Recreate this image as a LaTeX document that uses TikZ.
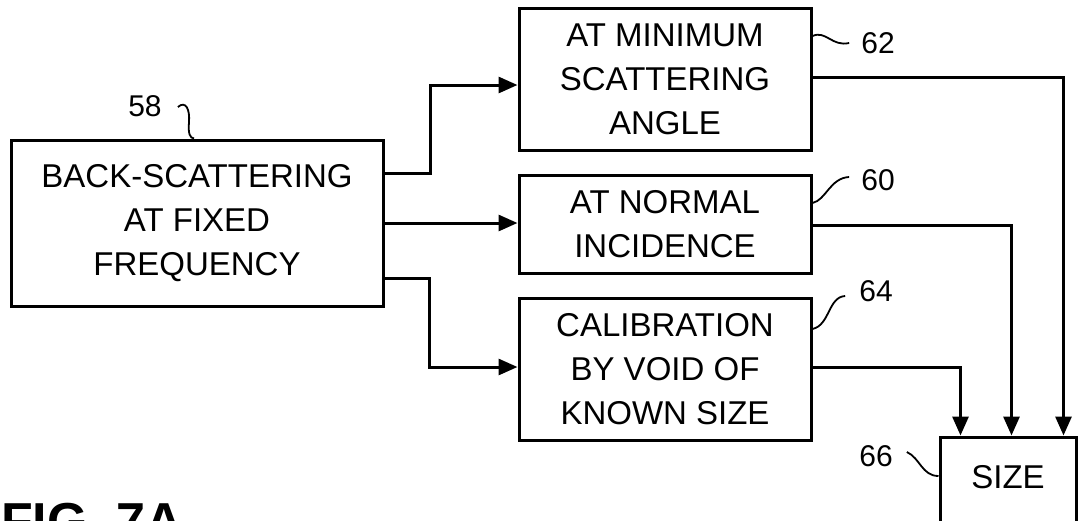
\documentclass[tikz,border=0pt]{standalone}
\usepackage{fontspec}
\setmainfont{Liberation Sans}
\usetikzlibrary{arrows.meta,calc}
\begin{document}
\begin{tikzpicture}[x=1pt,y=-1pt,
  box/.style={draw,line width=3pt,align=center,inner sep=0pt,font=\fontsize{33}{44}\selectfont},
  arr/.style={line width=3pt,-{Triangle[length=19pt,width=16pt]}},
  refnum/.style={font=\fontsize{30}{36}\selectfont,inner sep=0pt},
  lead/.style={line width=1.8pt}]
\useasboundingbox (0,0) rectangle (1078,520);
\fill[white] (0,0) rectangle (1078,520);
\clip (0,0) rectangle (1078,520);
% boxes
\node[box,minimum width=372pt,minimum height=166pt] (b58) at (197,223) {BACK-SCATTERING\\AT FIXED\\FREQUENCY};
\node[box,minimum width=292pt,minimum height=142pt] (b62) at (665,79) {AT MINIMUM\\SCATTERING\\ANGLE};
\node[box,minimum width=292pt,minimum height=98pt] (b60) at (665,224) {AT NORMAL\\INCIDENCE};
\node[box,minimum width=292pt,minimum height=142pt] (b64) at (665,369) {CALIBRATION\\BY VOID OF\\KNOWN SIZE};
\node[box,minimum width=136pt,minimum height=98pt,text height=24pt,text depth=20pt] (size) at (1008,486) {SIZE};
% connectors from 58
\draw[arr] ($(b58.east)+(0,-50)$) -- ++(46,0) |- ($(b62.west)+(0,6)$);
\draw[arr] (b58.east) -- (b58.east -| b60.west);
\draw[arr] ($(b58.east)+(0,55)$) -- ++(45,0) |- ($(b64.west)+(0,-2)$);
% connectors to size
\draw[arr] ($(b62.east)+(0,-2)$) -| ($(size.north west)+(125,0)$);
\draw[arr] ($(b60.east)+(0,1)$) -| ($(size.north west)+(73,0)$);
\draw[arr] ($(b64.east)+(0,-2)$) -| ($(size.north west)+(22,0)$);
% reference numerals
\node[refnum] (r58) at (145,106) {58};
\draw[lead] ($(r58.east)+(16,1)$) .. controls (186,100) and (190,110) .. (189,122) .. controls (188,134) and (190,138) .. ($(b58.north)+(-3,0)$);
\node[refnum] (r62) at (878,43) {62};
\draw[lead] ($(b62.east)+(0,-43)$) .. controls (826,30) and (832,47) .. ($(r62.west)+(-12,0)$);
\node[refnum] (r60) at (878,180) {60};
\draw[lead] ($(b60.east)+(0,-21)$) .. controls (826,200) and (830,178) .. ($(r60.west)+(-12,-3)$);
\node[refnum] (r64) at (876,291) {64};
\draw[lead] ($(b64.east)+(0,-40)$) .. controls (830,325) and (828,297) .. ($(r64.west)+(-14,5)$);
\node[refnum] (r66) at (876,456) {66};
\draw[lead] ($(r66.east)+(14,-4)$) .. controls (920,458) and (922,476) .. ($(size.west)+(0,-10)$);
% figure caption (cut off at the bottom)
\node[font=\fontsize{52}{60}\selectfont\bfseries,inner sep=0pt,anchor=base west] (fig) at (1,539) {FIG. 7A};
\end{tikzpicture}
\end{document}
